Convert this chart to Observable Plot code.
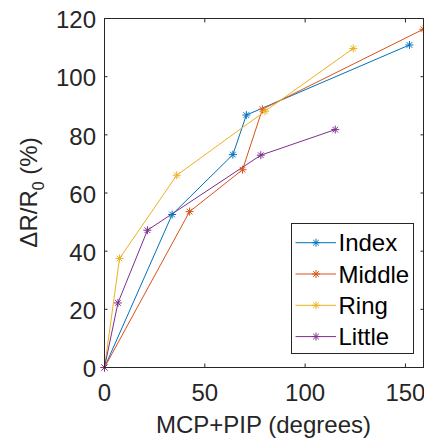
<!DOCTYPE html>
<html><head><meta charset="utf-8">
<script src="https://cdn.jsdelivr.net/npm/d3@7"></script>
<script src="https://cdn.jsdelivr.net/npm/@observablehq/plot@0.6"></script>
<style>body{margin:0;background:#fff} #chart{position:relative;width:424px;height:439px}</style>
</head><body><div id="chart"></div>
<script>
const series = ["Index", "Middle", "Ring", "Little"];
const colors = ["#0072BD", "#D95319", "#EDB120", "#7E2F8E"];
const indexX = [0, 33.7, 64, 70.7, 152];
const indexY = [0, 52.6, 73.2, 86.8, 110.9];
const middleX = [0, 42.4, 68.8, 78.7, 158.9];
const middleY = [0, 53.6, 68.0, 88.8, 116.3];
const ringX = [0, 7.5, 36, 80, 124];
const ringY = [0, 37.5, 66.1, 88.1, 109.7];
const littleX = [0, 6.7, 21.4, 77.9, 115];
const littleY = [0, 22.2, 47.2, 73.0, 81.8];
const xTicks = [0, 50, 100, 150];
const yTicks = [0, 20, 40, 60, 80, 100, 120];
const xLabel = "MCP+PIP (degrees)";

const seriesX = [indexX, middleX, ringX, littleX];
const seriesY = [indexY, middleY, ringY, littleY];
const data = [];
series.forEach((s, i) => seriesX[i].forEach((x, j) => data.push({series: s, x, y: seriesY[i][j]})));

const matStar = {
  draw(ctx, size) {
    const r = Math.sqrt(size / Math.PI), d = r * Math.SQRT1_2;
    ctx.moveTo(-r, 0); ctx.lineTo(r, 0);
    ctx.moveTo(0, -r); ctx.lineTo(0, r);
    ctx.moveTo(-d, -d); ctx.lineTo(d, d);
    ctx.moveTo(-d, d); ctx.lineTo(d, -d);
  }
};
const ink = "#262626";
const chart = Plot.plot({
  width: 424, height: 439,
  marginLeft: 104, marginTop: 18, marginRight: 1, marginBottom: 72,
  x: {domain: [0, 159]},
  y: {domain: [0, 120]},
  color: {domain: series, range: colors},
  style: {fontFamily: "'Liberation Sans', Arial, sans-serif", fontSize: "24px", color: ink, background: "white", overflow: "visible"},
  marks: [
    Plot.axisX(xTicks, {anchor: "bottom", tickSize: -3.5, tickFormat: () => "", label: null, stroke: ink}),
    Plot.axisX(xTicks, {anchor: "top", tickSize: -3.5, tickFormat: () => "", label: null, stroke: ink}),
    Plot.axisY(yTicks, {anchor: "left", tickSize: -3.5, tickFormat: () => "", label: null, stroke: ink}),
    Plot.axisY(yTicks, {anchor: "right", tickSize: -3.5, tickFormat: () => "", label: null, stroke: ink}),
    Plot.axisX(xTicks, {anchor: "bottom", tickSize: 0, tickPadding: 16, label: null, fill: ink, fontSize: 24}),
    Plot.axisY(yTicks, {anchor: "left", tickSize: 0, tickPadding: 8.5, dy: 2, label: null, fill: ink, fontSize: 24}),
    Plot.line(data, {x: "x", y: "y", z: "series", stroke: "series", strokeWidth: 1}),
    Plot.dot(data, {x: "x", y: "y", stroke: "series", symbol: matStar, r: 4, strokeWidth: 1}),
    Plot.frame({stroke: ink, strokeWidth: 1})
  ]
});
document.getElementById("chart").appendChild(chart);

const svg = d3.select(chart);
svg.append("text").attr("x", 263.5).attr("y", 433).attr("text-anchor", "middle")
  .attr("fill", ink).attr("font-size", 24).text(xLabel);
const yl = svg.append("text").attr("transform", "translate(37,192.5) rotate(-90)")
  .attr("text-anchor", "middle").attr("fill", ink).attr("font-size", 24);
yl.append("tspan").text("ΔR/R");
yl.append("tspan").attr("font-size", 16).attr("dy", 7).text("0");
yl.append("tspan").attr("dy", -7).text(" (%)");

const lg = svg.append("g");
lg.append("rect").attr("x", 291.5).attr("y", 223.5).attr("width", 122).attr("height", 130)
  .attr("fill", "white").attr("stroke", ink).attr("stroke-width", 1);
series.forEach((s, i) => {
  const cy = 242.7 + i * 31.3;
  lg.append("line").attr("x1", 295.5).attr("x2", 336).attr("y1", cy).attr("y2", cy)
    .attr("stroke", colors[i]).attr("stroke-width", 1);
  const r = 4, d = r * Math.SQRT1_2;
  lg.append("path").attr("transform", `translate(316,${cy})`)
    .attr("d", `M${-r},0L${r},0M0,${-r}L0,${r}M${-d},${-d}L${d},${d}M${-d},${d}L${d},${-d}`)
    .attr("stroke", colors[i]).attr("fill", "none");
  lg.append("text").attr("x", 338.5).attr("y", cy + 8.6).attr("fill", "#000")
    .attr("text-anchor", "start").attr("font-size", 24).text(s);
});
</script>
</body></html>
